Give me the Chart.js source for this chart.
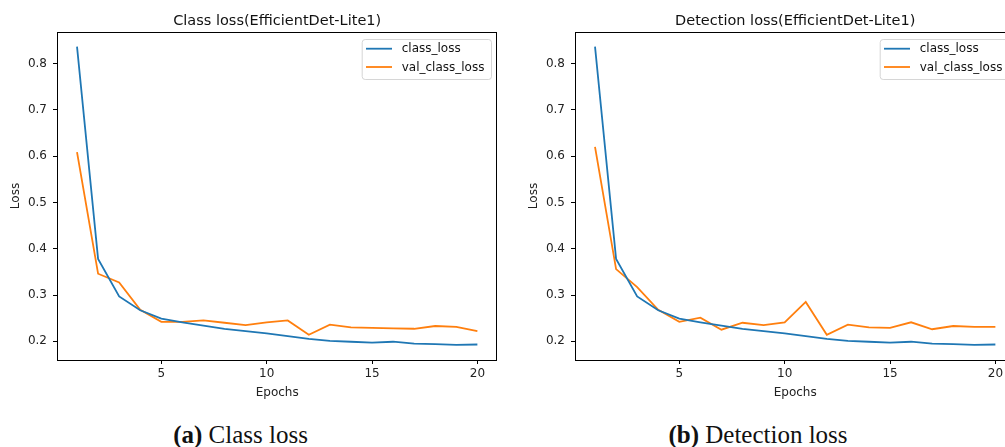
<!DOCTYPE html>
<html>
<head>
<meta charset="utf-8">
<script src="https://cdn.jsdelivr.net/npm/chart.js@4/dist/chart.umd.min.js"></script>
<style>
  html, body { margin: 0; padding: 0; background: #fff; }
  body { width: 1005px; height: 447px; overflow: hidden; position: relative; }
  .panel { position: absolute; top: 0; width: 518px; height: 400px; }
  .caption {
    position: absolute; top: 422px; width: 300px; text-align: center;
    font-family: "Liberation Serif", "DejaVu Serif", serif; font-size: 25px;
    line-height: 25px; color: #111; white-space: nowrap;
  }
  .caption b { font-weight: bold; }
</style>
</head>
<body>
<div class="panel" style="left:0px"><canvas id="classChart" width="518" height="400"></canvas></div>
<div class="panel" style="left:518px"><canvas id="detChart" width="518" height="400"></canvas></div>
<div class="caption" style="left:90.5px"><b>(a)</b> Class loss</div>
<div class="caption" style="left:608px"><b>(b)</b> Detection loss</div>
<script>
// Training history, one value per epoch
const epochs = [1,2,3,4,5,6,7,8,9,10,11,12,13,14,15,16,17,18,19,20];
const classLoss = [0.837,0.378,0.297,0.267,0.249,0.241,0.234,0.227,0.222,0.217,
                   0.211,0.205,0.201,0.199,0.197,0.199,0.195,0.194,0.192,0.193];
const valClassLoss = [0.609,0.346,0.327,0.268,0.242,0.242,0.245,0.240,0.235,0.241,
                      0.245,0.214,0.236,0.230,0.229,0.228,0.227,0.233,0.231,0.222];
const valDetectionLoss = [0.620,0.356,0.317,0.268,0.242,0.251,0.225,0.240,0.235,0.241,
                          0.285,0.214,0.236,0.230,0.229,0.241,0.226,0.233,0.231,0.231];

const xTicks = [5, 10, 15, 20];
const yTicks = [0.2, 0.3, 0.4, 0.5, 0.6, 0.7, 0.8];
const seriesNames = ['class_loss', 'val_class_loss'];
const seriesColors = ['#1f77b4', '#ff7f0e'];

const FONT = '"DejaVu Sans", sans-serif';
const TICK_SIZE = 12;
const TITLE_SIZE = 14.5;

function toPoints(values) {
  return epochs.map((e, i) => ({ x: e, y: values[i] }));
}

// Title, full box frame and legend, laid out relative to the plot area
const framePlugin = {
  id: 'frame',
  afterDatasetsDraw(chart) {
    const { ctx, chartArea: a } = chart;
    ctx.save();
    ctx.strokeStyle = '#000';
    ctx.lineWidth = 1;
    ctx.strokeRect(Math.round(a.left) + 0.5, Math.round(a.top) + 0.5,
                   Math.round(a.right - a.left) - 1, Math.round(a.bottom - a.top));
    ctx.restore();
  },
  afterDraw(chart, args, opts) {
    const { ctx, chartArea: a } = chart;
    ctx.save();
    // title
    ctx.fillStyle = '#111';
    ctx.font = TITLE_SIZE + 'px ' + FONT;
    ctx.textAlign = 'center';
    ctx.textBaseline = 'alphabetic';
    ctx.fillText(opts.title, (a.left + a.right) / 2, 24.7);

    // legend
    const ds = chart.data.datasets;
    const bx = a.right - 135.7, by = a.top + 7, bw = 129.3, bh = 40;
    ctx.beginPath();
    ctx.roundRect(bx + 0.5, by + 0.5, bw, bh, 3);
    ctx.fillStyle = 'rgba(255,255,255,0.8)';
    ctx.fill();
    ctx.strokeStyle = 'rgba(204,204,204,0.8)';
    ctx.lineWidth = 1;
    ctx.stroke();
    ctx.font = TICK_SIZE + 'px ' + FONT;
    ctx.textAlign = 'left';
    ctx.textBaseline = 'middle';
    ds.forEach((d, i) => {
      const y = by + 9.7 + i * 18.3;
      ctx.strokeStyle = d.borderColor;
      ctx.lineWidth = 1.8;
      ctx.beginPath();
      ctx.moveTo(bx + 4.3, y);
      ctx.lineTo(bx + 30.3, y);
      ctx.stroke();
      ctx.fillStyle = '#111';
      ctx.fillText(d.label, bx + 40, y + 0.5);
    });
    ctx.restore();
  }
};

function makeChart(id, title, valSeries) {
  return new Chart(document.getElementById(id), {
    type: 'line',
    data: {
      datasets: [
        { label: seriesNames[0], data: toPoints(classLoss), borderColor: seriesColors[0] },
        { label: seriesNames[1], data: toPoints(valSeries), borderColor: seriesColors[1] }
      ]
    },
    options: {
      responsive: false,
      animation: false,
      events: [],
      layout: { padding: { top: 32, right: 20.6, left: 0, bottom: 0 } },
      elements: {
        line: { borderWidth: 1.8, tension: 0, fill: false },
        point: { radius: 0 }
      },
      plugins: {
        legend: { display: false },
        tooltip: { enabled: false },
        frame: { title: title }
      },
      scales: {
        x: {
          type: 'linear',
          min: 0.05, max: 20.95,
          afterBuildTicks: s => { s.ticks = xTicks.map(v => ({ value: v })); },
          afterFit: s => { s.height = 40; },
          border: { display: false },
          grid: { display: true, drawOnChartArea: false, drawTicks: true,
                  tickLength: 4, tickColor: '#000', tickWidth: 1 },
          ticks: { color: '#222', padding: 3, maxRotation: 0,
                   font: { family: FONT, size: TICK_SIZE },
                   callback: v => String(v) },
          title: { display: true, text: 'Epochs', color: '#222',
                   font: { family: FONT, size: TICK_SIZE },
                   padding: { top: 1.8, bottom: 0 } }
        },
        y: {
          type: 'linear',
          min: 0.1595, max: 0.8685,
          afterBuildTicks: s => { s.ticks = yTicks.map(v => ({ value: v })); },
          afterFit: s => { s.width = 57; },
          border: { display: false },
          grid: { display: true, drawOnChartArea: false, drawTicks: true,
                  tickLength: 4, tickColor: '#000', tickWidth: 1 },
          ticks: { color: '#222', padding: 6,
                   font: { family: FONT, size: TICK_SIZE },
                   callback: v => v.toFixed(1) },
          title: { display: true, text: 'Loss', color: '#222',
                   font: { family: FONT, size: TICK_SIZE },
                   padding: { top: 8.8, bottom: 0 } }
        }
      }
    },
    plugins: [framePlugin]
  });
}

makeChart('classChart', 'Class loss(EfficientDet-Lite1)', valClassLoss);
makeChart('detChart', 'Detection loss(EfficientDet-Lite1)', valDetectionLoss);
</script>
</body>
</html>
